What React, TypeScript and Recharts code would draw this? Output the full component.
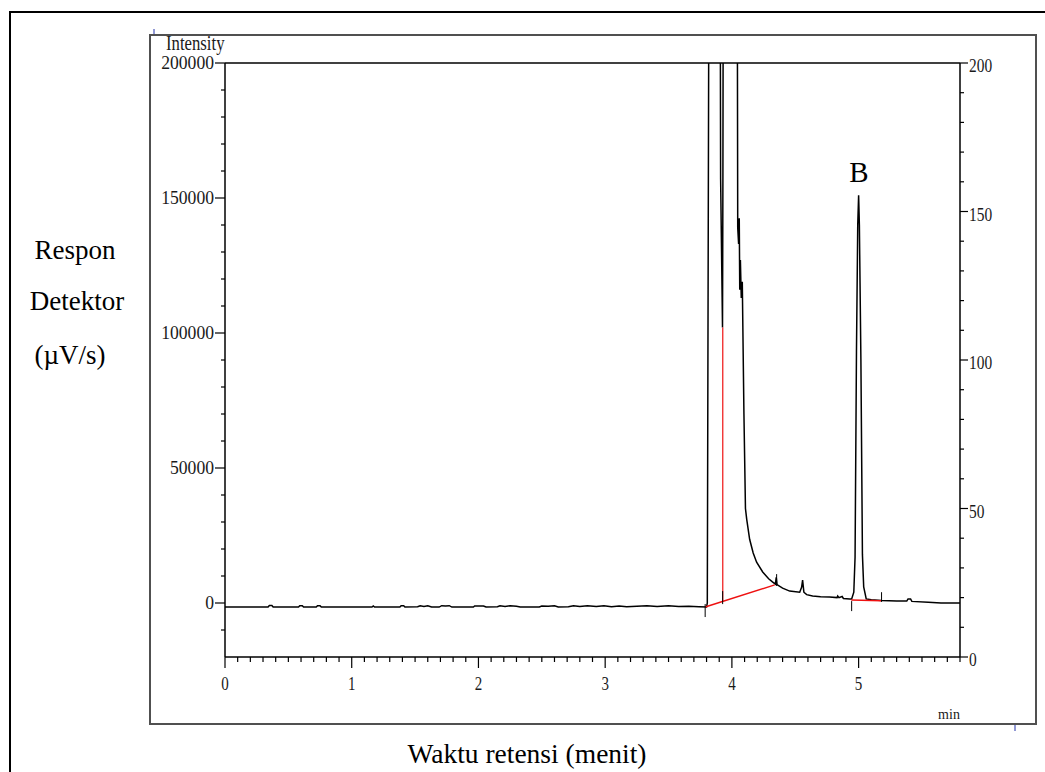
import React from 'react';
import { LineChart, Line, XAxis, YAxis, ReferenceLine } from 'recharts';

type Row = [number, number];
type Pt = { t: number; v: number };

// Detector trace, retention time (min) vs. response
const earlyBaseline: Row[] = [
  [0, -1500], [0.34, -1500], [0.35, -900], [0.37, -900], [0.38, -1500],
  [0.58, -1500], [0.59, -1000], [0.61, -1000], [0.62, -1500],
  [0.72, -1500], [0.73, -1000], [0.75, -1000], [0.76, -1500],
  [1.16, -1500], [1.17, -1100], [1.18, -1500],
  [1.38, -1500], [1.39, -1000], [1.41, -1000], [1.42, -1500],
  [1.52, -1400], [1.54, -1000], [1.57, -1300], [1.6, -1000], [1.63, -1500],
  [1.69, -1500], [1.71, -1000], [1.74, -1100], [1.77, -1000], [1.79, -1500],
  [1.96, -1500], [1.97, -1100], [2.04, -1100], [2.06, -1500],
  [2.15, -1400], [2.17, -1000], [2.21, -1300], [2.25, -1000], [2.3, -1200], [2.33, -1500],
  [2.48, -1500], [2.5, -1100], [2.55, -1200], [2.6, -1000], [2.63, -1500],
  [2.71, -1400], [2.75, -1000], [2.8, -1300], [2.86, -1000], [2.93, -1300], [2.99, -1000],
  [3.05, -1400], [3.11, -1100], [3.17, -1400], [3.25, -1200], [3.33, -1000], [3.41, -1300],
  [3.5, -1000], [3.58, -1300], [3.66, -1200], [3.74, -1400], [3.8, -1500],
];

const solventPeaks: Row[] = [
  [3.806, 0], [3.822, 300000], [3.905, 300000], [3.911, 157000], [3.926, 102000],
  [3.929, 157000], [3.934, 300000], [4.04, 300000], [4.046, 139000], [4.053, 133000],
  [4.058, 142500], [4.062, 116000], [4.067, 127000], [4.074, 113000], [4.082, 119000],
  [4.095, 70000], [4.107, 35000], [4.117, 31000], [4.14, 23600], [4.168, 18500],
  [4.195, 15100], [4.243, 11500], [4.29, 9000], [4.32, 7800], [4.343, 7000],
  [4.35, 9500], [4.356, 6800], [4.4, 5500], [4.456, 4400], [4.535, 4000],
  [4.55, 5800], [4.558, 8500], [4.568, 4000], [4.59, 3100], [4.637, 2600],
  [4.7, 2300], [4.77, 2200], [4.83, 2000], [4.835, 2600], [4.845, 2000],
  [4.87, 2400], [4.88, 1700], [4.93, 1500],
];

const peakB: Row[] = [
  [4.945, 1500], [4.962, 4000], [4.972, 17000], [4.983, 93000], [4.993, 140000],
  [5.0, 151000], [5.006, 140000], [5.018, 90000], [5.03, 18000], [5.04, 6000], [5.06, 1500],
];

const lateBaseline: Row[] = [
  [5.1, 1200], [5.18, 900], [5.3, 700], [5.38, 700], [5.39, 1500], [5.41, 1500],
  [5.42, 600], [5.55, 300], [5.65, 0], [5.8, 0],
];

// Integration baselines and drop line
const baselineA: Row[] = [[3.789, -1500], [4.338, 6700]];
const dropLineA: Row[] = [[3.928, 102000], [3.928, 600]];
const baselineB: Row[] = [[4.942, 1100], [5.179, 850]];

// Peak start / end markers: [time, top, bottom]
const peakMarkers: [number, number, number][] = [
  [3.789, -400, -5200],
  [3.927, 4400, -400],
  [4.353, 10700, 6300],
  [4.945, 700, -3000],
  [5.181, 4000, 400],
];

const xMajorTicks = [0, 1, 2, 3, 4, 5];
const xMinorTicks = Array.from({ length: 59 }, (_, i) => i / 10);
const leftMajorTicks = [0, 50000, 100000, 150000, 200000];
const leftMinorTicks = Array.from({ length: 22 }, (_, i) => -10000 + i * 10000);
const rightMajorTicks = [0, 50, 100, 150, 200];
const rightMinorTicks = Array.from({ length: 21 }, (_, i) => i * 10);

const toPts = (rows: Row[]): Pt[] => rows.map(([t, v]) => ({ t, v }));
const trace = toPts([...earlyBaseline, ...solventPeaks, ...peakB, ...lateBaseline]);

const serif = '"Liberation Serif", "Times New Roman", serif';
const ink = '#1a1a1a';

// narrow, tall digits like the instrument software output
const Condensed = ({ x, y, anchor, size, perChar, children }: any) => {
  const s = String(children);
  return (
    <text
      x={x}
      y={y}
      textAnchor={anchor}
      fontFamily={serif}
      fontSize={size}
      fill={ink}
      textLength={s.length * perChar}
      lengthAdjust="spacingAndGlyphs"
    >
      {s}
    </text>
  );
};

const XTick = (props: any) => {
  const { x, y, payload } = props;
  const v = payload.value as number;
  const major = xMajorTicks.some((m) => Math.abs(m - v) < 1e-6);
  return (
    <g>
      <line x1={x} x2={x} y1={y} y2={y + (major ? 11 : 5)} stroke="#000" strokeWidth={1.2} />
      {major && (
        <Condensed x={x} y={y + 33} anchor="middle" size={19} perChar={7.5}>
          {v}
        </Condensed>
      )}
    </g>
  );
};

const LeftTick = (props: any) => {
  const { x, y, payload } = props;
  const v = payload.value as number;
  const major = leftMajorTicks.includes(v);
  return (
    <g>
      <line x1={x - (major ? 10 : 4)} x2={x} y1={y} y2={y} stroke="#000" strokeWidth={1.2} />
      {major && (
        <Condensed x={x - 11} y={y + 6} anchor="end" size={19} perChar={8.8}>
          {v}
        </Condensed>
      )}
    </g>
  );
};

const RightTick = (props: any) => {
  const { x, y, payload } = props;
  const v = payload.value as number;
  const major = rightMajorTicks.includes(v);
  return (
    <g>
      <line x1={x} x2={x + (major ? 8 : 4)} y1={y} y2={y} stroke="#000" strokeWidth={1.2} />
      {major && (
        <Condensed x={x + 9} y={y + 9} anchor="start" size={18} perChar={7.7}>
          {v}
        </Condensed>
      )}
    </g>
  );
};

export default function App() {
  return (
    <div
      style={{
        position: 'absolute',
        left: 0,
        top: 0,
        width: 1045,
        height: 772,
        overflow: 'hidden',
        background: '#fff',
      }}
    >
      <svg width={1045} height={772} style={{ position: 'absolute', left: 0, top: 0 }}>
        {/* page frame */}
        <rect x={10} y={12} width={1100} height={800} fill="none" stroke="#000" strokeWidth={2} />
        {/* chart frame */}
        <rect x={150} y={35} width={886} height={689} fill="none" stroke="#505050" strokeWidth={2} />
        <line x1={154} x2={154} y1={29} y2={34} stroke="#2233aa" strokeWidth={1} />
        <line x1={1015} x2={1015} y1={725} y2={731} stroke="#2233aa" strokeWidth={1} />
        <Condensed x={166} y={50} anchor="start" size={20} perChar={6.5}>Intensity</Condensed>
        <text x={949} y={719} textAnchor="middle" fontFamily={serif} fontSize={14} fill={ink}>min</text>
        <text x={75} y={259} textAnchor="middle" fontFamily={serif} fontSize={27} fill="#000">Respon</text>
        <text x={77} y={310} textAnchor="middle" fontFamily={serif} fontSize={27} fill="#000">Detektor</text>
        <text x={70} y={364} textAnchor="middle" fontFamily={serif} fontSize={27} fill="#000">(µV/s)</text>
        <text x={527} y={763} textAnchor="middle" fontFamily={serif} fontSize={27.5} fill="#000">Waktu retensi (menit)</text>
        <text x={859} y={182} textAnchor="middle" fontFamily={serif} fontSize={29} fill="#000">B</text>
      </svg>
      <div style={{ position: 'absolute', left: 0, top: 0 }}>
        <LineChart width={1045} height={772} margin={{ top: 63, right: 35, bottom: 75, left: 145 }}>
          <XAxis
            type="number"
            dataKey="t"
            domain={[0, 5.8]}
            allowDataOverflow
            ticks={xMinorTicks}
            interval={0}
            tickSize={0}
            tickMargin={0}
            tick={<XTick />}
            axisLine={{ stroke: '#000', strokeWidth: 1.5 }}
            height={40}
          />
          <YAxis
            yAxisId="left"
            type="number"
            domain={[-20000, 200000]}
            allowDataOverflow
            ticks={leftMinorTicks}
            interval={0}
            tickSize={0}
            tickMargin={0}
            tick={<LeftTick />}
            axisLine={{ stroke: '#000', strokeWidth: 1.5 }}
            width={80}
          />
          <YAxis
            yAxisId="right"
            orientation="right"
            type="number"
            domain={[0, 200]}
            allowDataOverflow
            ticks={rightMinorTicks}
            interval={0}
            tickSize={0}
            tickMargin={0}
            tick={<RightTick />}
            axisLine={{ stroke: '#000', strokeWidth: 1.5 }}
            width={50}
          />
          <ReferenceLine yAxisId="left" y={200000} stroke="#000" strokeWidth={1.5} ifOverflow="visible" />
          <Line
            yAxisId="left"
            data={trace}
            dataKey="v"
            type="linear"
            stroke="#000"
            strokeWidth={1.5}
            dot={false}
            isAnimationActive={false}
          />
          <Line
            yAxisId="left"
            data={toPts(baselineA)}
            dataKey="v"
            type="linear"
            stroke="#ee1111"
            strokeWidth={1.5}
            dot={false}
            isAnimationActive={false}
          />
          <Line
            yAxisId="left"
            data={toPts(dropLineA)}
            dataKey="v"
            type="linear"
            stroke="#ee1111"
            strokeWidth={1.2}
            dot={false}
            isAnimationActive={false}
          />
          <Line
            yAxisId="left"
            data={toPts(baselineB)}
            dataKey="v"
            type="linear"
            stroke="#ee1111"
            strokeWidth={1.5}
            dot={false}
            isAnimationActive={false}
          />
          {peakMarkers.map(([t, top, bottom], i) => (
            <ReferenceLine
              key={i}
              yAxisId="left"
              segment={[
                { x: t, y: top },
                { x: t, y: bottom },
              ]}
              stroke="#000"
              strokeWidth={1}
            />
          ))}
        </LineChart>
      </div>
    </div>
  );
}
